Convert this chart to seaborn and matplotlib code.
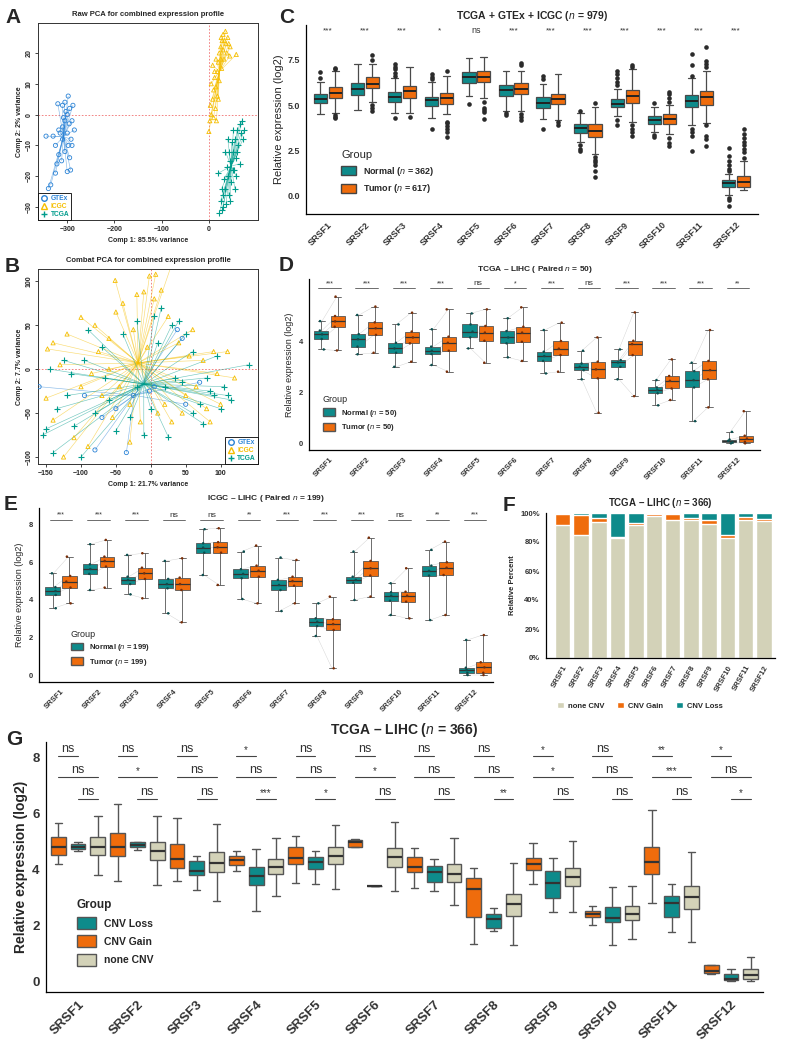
import numpy as np
import pandas as pd
import matplotlib
matplotlib.use("Agg")
import matplotlib.pyplot as plt
import seaborn as sns
from matplotlib.patches import Patch
from matplotlib.lines import Line2D
from matplotlib.collections import LineCollection

sns.set_style("white")
plt.rcParams["font.family"] = ["Liberation Sans", "DejaVu Sans"]
plt.rcParams["mathtext.fontset"] = "custom"
plt.rcParams["mathtext.rm"] = "Liberation Sans"
plt.rcParams["mathtext.it"] = "Liberation Sans:italic"
plt.rcParams["mathtext.bf"] = "Liberation Sans:bold"

# ---------------- data ----------------
genes = ["SRSF1", "SRSF2", "SRSF3", "SRSF4", "SRSF5", "SRSF6",
         "SRSF7", "SRSF8", "SRSF9", "SRSF10", "SRSF11", "SRSF12"]

# A: raw PCA (approximate point positions)
a_gtex_x = [-340, -335, -325, -322, -318, -345, -330, -325, -315, -310, -305, -300, -295, -305, -298,
            -310, -320, -290, -285, -290, -295, -300, -293, -305, -310, -300, -308, -303, -296, -288,
            -312, -318, -298, -292]
a_gtex_y = [-24, -22.8, -19, -16, -13, -7, -7, -10, -6, -4, -2, 0, 2, 4, 6,
            3, 3.5, -2, -5, -10, -14, -18.5, -18, -12, -8, -6, -1, 1, -3, 3,
            -15, -5, -10, -8]
a_icgc_x = [0, 2, 5, 3, 8, 10, 5, 12, 15, 18, 20, 15, 22, 25, 28, 30, 35, 40, 45, 38, 32, 27, 22,
            18, 14, 10, 58, 42, 36, 25, 20, 16, 12, 8, 30, 26, 33, 44]
a_icgc_y = [-5.5, -2, 0, 3, 5, 8, 10, 12, 9, 14, 17, 18, 20, 22, 24, 26, 27, 25, 22, 20, 18, 15, 11,
            6, 2, -1, 19.5, 23, 23, 18, 5, -2, 14, 16, 21, 25, 24, 19]
a_tcga_x = [22, 28, 25, 30, 35, 32, 40, 38, 45, 42, 50, 48, 55, 52, 60, 65, 70, 75, 68, 62, 57, 53,
            47, 42, 36, 30, 20, 65, 58, 35, 72, 45, 27, 40, 50, 60, 55]
a_tcga_y = [-32, -31, -28, -26, -24, -21, -20, -17, -15, -12, -12, -9, -8, -5, -5, -3, -2, -5, -6,
            -10, -14, -18, -22, -26, -29, -30, -19, -16, -20, -12, -8, -28, -24, -8, -18, -12, -24]

# B: combat PCA
b_gtex_x = [-80, -35, -25, -70, 50, 45, 38, -160, -95, 5, -2, 70, -50]
b_gtex_y = [-92, -95, -30, -55, -40, 35, 45, -20, -30, -20, -25, -15, -45]
b_icgc_x = [-148, -150, -140, -125, -110, -100, -90, -80, -75, -70, -60, -55, -50, -45, -40, -30,
            -25, -20, -15, -10, -5, 5, 15, 20, 25, 30, 40, 45, 50, 60, 65, 75, 80, 90, 95, 110,
            -130, -100, 100, -30, 10, -60, 55, -120, -85, 29, -51, -2, 7, 120, -140, 85]
b_icgc_y = [23, -33, -58, -100, -78, 59, -88, 50, 20, -30, 35, -55, 65, -20, 75, -83,
            45, 85, -60, 88, 25, 80, 90, -40, 60, -60, 30, -50, -30, 45, -20, 10, -45, 20, -5, 20,
            5, -20, -40, -40, -50, 0, 15, 40, -5, 117, 101, 106, 108, -10, 30, -60]
b_tcga_x = [-155, -140, -150, -135, -120, -110, -100, -95, -80, -70, -60, -50, -40, -30, -20, -10,
            0, 5, 15, 25, 30, 40, 45, 50, 60, 70, 75, 85, 90, 100, 105, 115, 140, -145, -125, -90,
            20, 60, -20, 35, 80, -65, 10, 95, -115, 110]
b_tcga_y = [-75, -95, -68, -45, -30, -65, -100, 10, -50, 25, -35, -70, 40, -55, 55, -75,
            -45, 60, 70, -77, 50, 55, -15, 40, -50, -40, -62, -25, -30, -45, -20, -35, 5, 0, 10, 45,
            -20, 20, -20, -10, -10, -10, 30, 15, -5, -30]

# C: TCGA + GTEx + ICGC, box summaries (low whisker, Q1, median, Q3, high whisker)
c_normal = [
    [4.50, 5.11, 5.37, 5.61, 6.30], [4.74, 5.57, 5.88, 6.21, 7.30], [4.60, 5.20, 5.44, 5.74, 6.50],
    [4.30, 4.96, 5.29, 5.48, 6.30], [5.50, 6.25, 6.54, 6.86, 7.60], [4.70, 5.53, 5.85, 6.12, 6.90],
    [4.25, 4.83, 5.11, 5.44, 6.20], [3.00, 3.49, 3.77, 3.95, 4.60], [4.40, 4.89, 5.07, 5.35, 5.90],
    [3.50, 3.95, 4.19, 4.41, 4.90], [3.90, 4.89, 5.24, 5.57, 6.50], [0.05, 0.51, 0.70, 0.85, 1.20],
]
c_tumor = [
    [4.60, 5.42, 5.70, 5.99, 6.90], [5.20, 5.97, 6.18, 6.54, 7.30], [4.60, 5.39, 5.79, 6.07, 7.10],
    [4.50, 5.07, 5.39, 5.66, 6.60], [5.40, 6.27, 6.58, 6.89, 7.65], [4.70, 5.61, 5.90, 6.25, 6.90],
    [4.20, 5.06, 5.37, 5.61, 6.70], [2.30, 3.27, 3.58, 3.95, 4.90], [4.10, 5.15, 5.53, 5.85, 7.00],
    [3.40, 3.97, 4.26, 4.52, 5.00], [4.00, 5.00, 5.44, 5.81, 6.90], [0.35, 0.51, 0.79, 1.10, 1.90],
]
c_normal_out = [
    [6.50, 6.85], [], [6.60, 6.80, 7.00, 7.10, 7.30, 4.30], [6.45, 6.55, 6.75, 3.70], [5.05],
    [4.55, 4.45], [6.45, 6.60, 3.70], [4.70, 2.80, 2.60, 2.50],
    [6.10, 6.30, 6.50, 6.70, 6.90, 4.20, 3.90], [5.10, 3.35, 3.25],
    [6.60, 7.20, 7.85, 3.70, 3.50, 3.30, 2.50],
    [1.35, 1.50, 1.70, 1.90, 2.20, 2.65, -0.10, -0.20, -0.55],
]
c_tumor_out = [
    [7.00, 7.05, 4.45, 4.35, 4.28], [7.50, 7.75, 5.00, 4.85, 4.70], [4.35],
    [6.90, 4.10, 4.00, 3.85, 3.70, 3.50, 3.25], [5.20, 4.85, 4.75, 4.65, 4.25],
    [7.25, 7.35, 4.50, 4.35, 4.20], [4.05, 3.90], [5.10, 2.15, 2.00, 1.85, 1.70, 1.40, 1.05],
    [7.10, 7.25, 3.90, 3.70, 3.50, 3.30], [5.20, 5.40, 5.60, 5.75, 3.20, 2.90, 2.75],
    [7.10, 7.30, 7.45, 8.20, 3.90, 3.30, 3.15, 2.75], [2.10, 2.40, 2.60, 2.80, 3.00, 3.20, 3.40, 3.70],
]
c_sig = ["***", "***", "***", "*", "ns", "***", "***", "***", "***", "***", "***", "***"]

# D: TCGA-LIHC paired
d_normal = [
    [3.67, 4.08, 4.26, 4.41, 4.78], [3.48, 3.78, 4.07, 4.27, 5.02], [2.99, 3.54, 3.71, 3.93, 4.65],
    [3.06, 3.49, 3.62, 3.78, 4.46], [3.71, 4.14, 4.37, 4.65, 5.08], [3.36, 3.91, 4.14, 4.39, 4.89],
    [2.73, 3.22, 3.41, 3.58, 4.43], [2.50, 2.86, 2.99, 3.12, 3.62], [2.50, 2.99, 3.16, 3.25, 3.67],
    [1.48, 1.95, 2.08, 2.18, 2.47], [0.86, 2.18, 2.47, 2.82, 3.15], [-0.01, 0.03, 0.09, 0.14, 0.44],
]
d_tumor = [
    [3.63, 4.56, 4.77, 4.98, 5.74], [3.54, 4.24, 4.50, 4.73, 5.35], [3.19, 3.91, 4.14, 4.37, 5.11],
    [2.80, 3.62, 3.93, 4.17, 5.24], [3.15, 4.01, 4.33, 4.59, 5.24], [3.22, 3.97, 4.33, 4.56, 5.32],
    [2.80, 3.45, 3.70, 4.00, 4.72], [1.19, 2.54, 2.89, 3.19, 4.14], [1.84, 3.45, 3.88, 4.01, 5.12],
    [1.69, 2.14, 2.44, 2.63, 3.28], [1.40, 2.50, 2.86, 3.22, 4.43], [-0.01, 0.05, 0.18, 0.29, 1.25],
]
d_sig = ["***", "***", "***", "***", "ns", "*", "***", "ns", "***", "***", "***", "**"]

# E: ICGC-LIHC paired
e_normal = [
    [3.56, 4.27, 4.48, 4.68, 5.42], [4.53, 5.39, 5.65, 5.90, 6.97], [4.30, 4.85, 5.07, 5.24, 6.40],
    [3.29, 4.62, 4.85, 5.12, 6.08], [5.33, 6.52, 6.79, 7.02, 7.77], [4.05, 5.16, 5.39, 5.64, 6.58],
    [3.41, 4.53, 4.80, 5.07, 6.26], [2.08, 2.61, 2.84, 3.02, 3.82], [4.00, 4.92, 5.07, 5.24, 6.58],
    [3.20, 3.96, 4.23, 4.41, 4.89], [2.93, 5.30, 5.55, 5.83, 6.67], [0.00, 0.12, 0.27, 0.39, 1.87],
]
e_tumor = [
    [3.82, 4.66, 4.98, 5.28, 6.31], [4.66, 5.78, 6.08, 6.31, 7.20], [4.09, 5.12, 5.42, 5.72, 6.49],
    [2.81, 4.53, 4.85, 5.19, 6.22], [4.80, 6.52, 6.81, 7.08, 7.82], [3.82, 5.24, 5.56, 5.83, 6.90],
    [3.82, 4.76, 5.01, 5.24, 6.13], [0.36, 2.40, 2.72, 2.97, 4.18], [4.18, 5.30, 5.69, 6.08, 7.32],
    [3.02, 3.91, 4.23, 4.44, 5.69], [3.20, 5.33, 5.72, 6.01, 7.11], [0.00, 0.12, 0.41, 0.68, 2.13],
]
e_sig = ["***", "***", "***", "ns", "ns", "**", "***", "***", "***", "ns", "**", "***"]

# F: CNV percentages
f_none = [91.7, 85.1, 94.0, 82.5, 91.5, 98.0, 95.2, 95.4, 92.4, 82.7, 95.1, 94.7]
f_gain = [7.4, 13.3, 2.5, 1.1, 1.8, 1.1, 3.9, 0.9, 2.5, 2.1, 2.1, 0.9]
f_loss = [0.9, 1.6, 3.5, 16.4, 6.7, 0.9, 0.9, 3.7, 5.1, 15.2, 2.8, 4.4]

# G: CNV groups
g_gain = [
    [4.20, 4.52, 4.79, 5.15, 5.66], [3.60, 4.50, 4.80, 5.31, 6.36], [3.60, 4.07, 4.37, 4.91, 5.83],
    [3.96, 4.17, 4.33, 4.48, 4.66], [3.53, 4.21, 4.40, 4.81, 5.21], [4.80, 4.82, 4.98, 5.05, 5.08],
    [3.32, 3.91, 4.10, 4.45, 4.76], [1.32, 2.31, 3.30, 3.69, 4.05], [3.48, 3.99, 4.19, 4.40, 4.94],
    [2.01, 2.29, 2.42, 2.52, 2.69], [2.81, 3.84, 4.27, 4.80, 6.12], [0.25, 0.30, 0.36, 0.57, 0.57],
]
g_loss = [
    [4.67, 4.74, 4.82, 4.91, 4.98], [4.69, 4.79, 4.88, 5.00, 5.00], [3.27, 3.80, 3.93, 4.31, 4.50],
    [2.52, 3.45, 3.76, 4.09, 4.73], [3.47, 4.03, 4.27, 4.45, 4.66], [3.42, 3.42, 3.42, 3.42, 3.42],
    [3.24, 3.57, 3.91, 4.14, 4.36], [1.80, 1.91, 2.23, 2.41, 2.61], [2.49, 2.99, 3.51, 3.93, 4.43],
    [1.29, 2.11, 2.27, 2.67, 3.39], [1.77, 2.29, 2.81, 3.06, 3.47], [0.02, 0.04, 0.07, 0.25, 0.44],
]
g_none = [
    [3.81, 4.52, 4.82, 5.15, 5.90], [3.45, 4.33, 4.66, 4.98, 5.90], [2.88, 3.90, 4.25, 4.63, 5.64],
    [3.06, 3.83, 4.08, 4.36, 5.13], [3.29, 4.19, 4.50, 4.81, 5.58], [3.23, 4.10, 4.44, 4.76, 5.71],
    [2.73, 3.54, 3.84, 4.19, 5.12], [1.29, 2.35, 2.76, 3.11, 4.22], [2.47, 3.40, 3.72, 4.05, 5.02],
    [1.51, 2.18, 2.42, 2.69, 3.41], [1.39, 2.59, 3.03, 3.42, 4.62], [0.00, 0.07, 0.22, 0.42, 0.87],
]
g_sig_gain_loss = ["ns", "ns", "ns", "*", "ns", "ns", "ns", "ns", "*", "ns", "**", "*"]
g_sig_gain_none = ["ns", "*", "ns", "ns", "ns", "*", "ns", "ns", "*", "ns", "***", "ns"]
g_sig_loss_none = ["ns", "ns", "ns", "***", "*", "ns", "ns", "**", "ns", "ns", "ns", "*"]

# ---------------- style ----------------
TEAL = "#0E8B8B"
ORANGE = "#EF6C0C"
BEIGE = "#D3D2B8"
GTEX_C = "#2B83D6"
ICGC_C = "#F5BE00"
TCGA_C = "#009C8C"
W, H = 788, 1045


def axes_px(left, top, right, bottom):
    return fig.add_axes([left / W, 1 - bottom / H, (right - left) / W, (bottom - top) / H])


def box_df(names, series):
    rows = []
    for name, boxes in zip(names, series):
        for gene, vals in zip(genes, boxes):
            for v in vals:
                rows.append((gene, name, v))
    return pd.DataFrame(rows, columns=["gene", "group", "value"])


def gg_axes(ax, tick_size, weight="bold"):
    sns.despine(ax=ax)
    for s in ["left", "bottom"]:
        ax.spines[s].set_color("black")
        ax.spines[s].set_linewidth(0.9)
    ax.tick_params(length=3, width=0.8, color="#333333", labelsize=tick_size, pad=1.5)
    for lab in ax.get_xticklabels() + ax.get_yticklabels():
        lab.set_fontweight(weight)
        lab.set_color("#333333")
    ax.set_xlabel("")


def panel_letter(x, y, s):
    fig.text(x / W, 1 - y / H, s, fontsize=15, fontweight="bold", va="top", ha="left")


fig = plt.figure(figsize=(W / 100, H / 100), dpi=100)

# ---------------- A / B: PCA ----------------
pca_colors = {"GTEx": GTEX_C, "ICGC": ICGC_C, "TCGA": TCGA_C}
pca_markers = {"GTEx": "o", "ICGC": "^", "TCGA": "+"}


def pca_panel(ax, pts, xlim, ylim, xticks, yticks, title, xlabel, ylabel, legend_loc):
    for name, (xs, ys) in pts.items():
        xs = np.asarray(xs, float)
        ys = np.asarray(ys, float)
        cx, cy = xs.mean(), ys.mean()
        segs = [[(cx, cy), (x, y)] for x, y in zip(xs, ys)]
        ax.add_collection(LineCollection(segs, colors=pca_colors[name], linewidths=0.45, alpha=0.55))
        if pca_markers[name] == "+":
            ax.scatter(xs, ys, marker="+", s=14, color=pca_colors[name], linewidths=0.8, zorder=3)
        else:
            ax.scatter(xs, ys, marker=pca_markers[name], s=9, facecolors="none",
                       edgecolors=pca_colors[name], linewidths=0.6, zorder=3)
    ax.axvline(0, color="#F07070", ls=(0, (2, 2)), lw=0.6, zorder=1)
    ax.axhline(0, color="#F07070", ls=(0, (2, 2)), lw=0.6, zorder=1)
    ax.set_xlim(*xlim)
    ax.set_ylim(*ylim)
    ax.set_xticks(xticks)
    ax.set_yticks(yticks)
    for s in ax.spines.values():
        s.set_color("#333333")
        s.set_linewidth(0.7)
    ax.tick_params(length=2.5, width=0.6, labelsize=5, pad=1.5, direction="out",
                   bottom=True, left=True)
    ax.tick_params(axis="y", labelrotation=90)
    for lab in ax.get_yticklabels():
        lab.set_va("center")
    for lab in ax.get_xticklabels() + ax.get_yticklabels():
        lab.set_fontweight("bold")
    ax.set_title(title, fontsize=5.5, fontweight="bold", pad=5)
    ax.set_xlabel(xlabel, fontsize=5, fontweight="bold", labelpad=3)
    ax.set_ylabel(ylabel, fontsize=5, fontweight="bold", labelpad=2)
    handles = []
    for name in ["GTEx", "ICGC", "TCGA"]:
        if pca_markers[name] == "+":
            handles.append(Line2D([], [], ls="", marker="+", color=pca_colors[name], ms=5))
        else:
            handles.append(Line2D([], [], ls="", marker=pca_markers[name], mfc="none",
                                  mec=pca_colors[name], ms=4))
    leg = ax.legend(handles, ["GTEx", "ICGC", "TCGA"], loc=legend_loc, fontsize=4.8,
                    frameon=True, fancybox=False, edgecolor="black", framealpha=1,
                    borderpad=0.3, labelspacing=0.15, handletextpad=0.4, handlelength=1.2,
                    borderaxespad=0)
    leg.get_frame().set_linewidth(0.6)
    for t, name in zip(leg.get_texts(), ["GTEx", "ICGC", "TCGA"]):
        t.set_color(pca_colors[name])
        t.set_fontweight("bold")


axA = axes_px(38, 23, 258, 220)
pca_panel(axA, {"GTEx": (a_gtex_x, a_gtex_y), "ICGC": (a_icgc_x, a_icgc_y),
                "TCGA": (a_tcga_x, a_tcga_y)},
          (-362, 104), (-34.2, 29.7), [-300, -200, -100, 0], [-30, -20, -10, 0, 10, 20],
          "Raw PCA for combined expression profile", "Comp 1: 85.5% variance",
          "Comp 2: 2% variance", "lower left")

axB = axes_px(38, 269, 258, 464)
pca_panel(axB, {"GTEx": (b_gtex_x, b_gtex_y), "ICGC": (b_icgc_x, b_icgc_y),
                "TCGA": (b_tcga_x, b_tcga_y)},
          (-161.6, 153.6), (-108, 114), [-150, -100, -50, 0, 50, 100], [-100, -50, 0, 50, 100],
          "Combat PCA for combined expression profile", "Comp 1: 21.7% variance",
          "Comp 2: 7.7% variance", "lower right")

# ---------------- C ----------------
axC = axes_px(306, 25, 758, 214)
dfc = box_df(["Normal", "Tumor"], [c_normal, c_tumor])
sns.boxplot(data=dfc, x="gene", y="value", hue="group", hue_order=["Normal", "Tumor"],
            palette={"Normal": TEAL, "Tumor": ORANGE}, saturation=1, whis=(0, 100),
            showfliers=False, width=0.8, gap=0.1, linecolor="#4a4a4a", linewidth=0.9,
            medianprops={"color": "#222222", "linewidth": 1.4}, legend=False, ax=axC)
for i in range(len(genes)):
    for off, outs in ((-0.2, c_normal_out[i]), (0.2, c_tumor_out[i])):
        if outs:
            axC.scatter(np.full(len(outs), i + off), outs, s=11, color="#2b2b2b", zorder=3,
                        linewidths=0)
    axC.text(i, 9.1, c_sig[i], ha="center", va="center",
             fontsize=6.5 if c_sig[i] == "ns" else 6, color="#333333")
axC.set_xlim(-0.59, 11.59)
axC.set_ylim(-1.0, 9.43)
axC.set_yticks([0, 2.5, 5, 7.5])
axC.set_yticklabels(["0.0", "2.5", "5.0", "7.5"])
gg_axes(axC, 6.5)
axC.set_ylabel("Relative expression (log2)", fontsize=8, labelpad=2)
plt.setp(axC.get_xticklabels(), rotation=45, ha="right", rotation_mode="anchor")
axC.set_title(r"TCGA + GTEx + ICGC ($\mathit{n}$ = 979)", fontsize=7.5, fontweight="bold", pad=4)
legC = axC.legend([Patch(facecolor=TEAL, edgecolor="#444444"), Patch(facecolor=ORANGE, edgecolor="#444444")],
                  [r"Normal ($\mathit{n}$ = 362)", r"Tumor ($\mathit{n}$ = 617)"],
                  title="Group", loc="upper left", bbox_to_anchor=(0.06, 0.38), frameon=False,
                  prop={"size": 6.5, "weight": "bold"}, title_fontproperties={"size": 8},
                  handlelength=1.6, handleheight=1.2, labelspacing=0.5)
legC._legend_box.align = "left"


# ---------------- D / E paired ----------------
def paired_panel(ax, normal, tumor, sig, sig_y, ylim, yticks, xlim, title, n, leg_anchor):
    df = box_df(["Normal", "Tumor"], [normal, tumor])
    for i in range(len(genes)):
        for a, b in zip(normal[i], tumor[i]):
            ax.plot([i - 0.2, i + 0.2], [a, b], color="#bbbbbb", lw=0.3, alpha=0.7, zorder=1)
    sns.boxplot(data=df, x="gene", y="value", hue="group", hue_order=["Normal", "Tumor"],
                palette={"Normal": TEAL, "Tumor": ORANGE}, saturation=1, whis=(0, 100),
                showfliers=False, width=0.9, gap=0.15, linecolor="#555555", linewidth=0.6,
                medianprops={"color": "#333333", "linewidth": 0.9}, legend=False, ax=ax)
    sns.stripplot(data=df, x="gene", y="value", hue="group", hue_order=["Normal", "Tumor"],
                  palette={"Normal": "#0b4f4f", "Tumor": "#7a2e08"}, dodge=True, jitter=0.12,
                  size=1.8, legend=False, ax=ax, zorder=3)
    for i, s in enumerate(sig):
        ax.plot([i - 0.3, i + 0.3], [sig_y, sig_y], color="#555555", lw=0.6)
        ax.text(i, sig_y + 0.05 * (ylim[1] - ylim[0]) / 7, s, ha="center", va="bottom",
                fontsize=6 if s == "ns" else 5, color="#333333")
    ax.set_xlim(*xlim)
    ax.set_ylim(*ylim)
    ax.set_yticks(yticks)
    gg_axes(ax, 5.5)
    ax.set_ylabel("Relative expression (log2)", fontsize=6.5, labelpad=3)
    plt.setp(ax.get_xticklabels(), rotation=45, ha="right", rotation_mode="anchor")
    ax.set_title(title, fontsize=6, fontweight="bold", pad=6)
    leg = ax.legend([Patch(facecolor=TEAL, edgecolor="#555555"), Patch(facecolor=ORANGE, edgecolor="#555555")],
                    [r"Normal ($\mathit{n}$ = %d)" % n, r"Tumor ($\mathit{n}$ = %d)" % n],
                    title="Group", loc="upper left", bbox_to_anchor=leg_anchor, frameon=False,
                    prop={"size": 5.5, "weight": "bold"}, title_fontproperties={"size": 6.5},
                    handlelength=1.6, handleheight=1.2, labelspacing=0.45)
    leg._legend_box.align = "left"


axD = axes_px(309, 279, 760, 450)
paired_panel(axD, d_normal, d_tumor, d_sig, 6.07, (-0.27, 6.43), [0, 2, 4], (-0.55, 11.6),
             r"TCGA – LIHC ( Paired $\mathit{n}$ = 50)", 50, (0.015, 0.36))

axE = axes_px(39, 508, 493, 682)
paired_panel(axE, e_normal, e_tumor, e_sig, 8.27, (-0.37, 8.9), [0, 2, 4, 6, 8], (-0.585, 11.48),
             r"ICGC – LIHC ( Paired $\mathit{n}$ = 199)", 199, (0.055, 0.34))

# ---------------- F ----------------
axF = axes_px(546, 513, 775, 658)
f_total = np.array(f_none) + np.array(f_gain) + np.array(f_loss)
f_none_gain = np.array(f_none) + np.array(f_gain)
sns.barplot(x=genes, y=f_total, color=TEAL, saturation=1, width=0.85, ax=axF)
sns.barplot(x=genes, y=f_none_gain, color=ORANGE, saturation=1, width=0.85, ax=axF)
sns.barplot(x=genes, y=f_none, color=BEIGE, saturation=1, width=0.85, ax=axF)
axF.set_xlim(-0.91, 11.6)
axF.set_ylim(0, 100)
axF.set_yticks([0, 20, 40, 60, 80, 100])
axF.set_yticklabels(["0%", "20%", "40%", "60%", "80%", "100%"])
gg_axes(axF, 5.5)
axF.set_ylabel("Relative Percent", fontsize=5.5, fontweight="bold", labelpad=3)
plt.setp(axF.get_xticklabels(), rotation=60, ha="right", rotation_mode="anchor")
axF.set_title(r"TCGA – LIHC ($\mathit{n}$ = 366)", fontsize=7, fontweight="bold", pad=5)
fig.legend([Patch(facecolor=BEIGE), Patch(facecolor=ORANGE), Patch(facecolor=TEAL)],
           ["none CNV", "CNV Gain", "CNV Loss"], loc="center", bbox_to_anchor=(640 / W, 1 - 706 / H),
           ncol=3, frameon=False, prop={"size": 5.5, "weight": "bold"},
           handlelength=0.9, handleheight=0.9, columnspacing=1.6, handletextpad=0.6)

# ---------------- G ----------------
axG = axes_px(46, 742, 763, 992)
dfg = box_df(["CNV Gain", "CNV Loss", "none CNV"], [g_gain, g_loss, g_none])
sns.boxplot(data=dfg, x="gene", y="value", hue="group",
            hue_order=["CNV Gain", "CNV Loss", "none CNV"],
            palette={"CNV Gain": ORANGE, "CNV Loss": TEAL, "none CNV": BEIGE}, saturation=1,
            whis=(0, 100), showfliers=False, width=1.0, gap=0.25, linecolor="#555555",
            linewidth=1.0, medianprops={"color": "#333333", "linewidth": 1.6},
            legend=False, ax=axG)
third = 1 / 3
rows = [(g_sig_gain_loss, -third, 0, 8.07), (g_sig_gain_none, -third, third, 7.32),
        (g_sig_loss_none, 0, third, 6.53)]
for labels, x0, x1, yv in rows:
    for i, s in enumerate(labels):
        axG.plot([i + x0, i + x1], [yv, yv], color="#444444", lw=0.8)
        axG.text(i + (x0 + x1) / 2, yv + 0.04, s, ha="center", va="bottom",
                 fontsize=9 if s == "ns" else 7, color="#333333")
axG.set_xlim(-0.54, 11.54)
axG.set_ylim(-0.39, 8.57)
axG.set_yticks([0, 2, 4, 6, 8])
gg_axes(axG, 9.5)
axG.set_ylabel("Relative expression (log2)", fontsize=10, fontweight="bold", labelpad=3)
plt.setp(axG.get_xticklabels(), rotation=45, ha="right", rotation_mode="anchor")
axG.set_title(r"TCGA – LIHC ($\mathit{n}$ = 366)", fontsize=10, fontweight="bold", pad=6)
legG = axG.legend([Patch(facecolor=TEAL, edgecolor="#555555"), Patch(facecolor=ORANGE, edgecolor="#555555"),
                   Patch(facecolor=BEIGE, edgecolor="#555555")],
                  ["CNV Loss", "CNV Gain", "none CNV"], title="Group", loc="upper left",
                  bbox_to_anchor=(0.03, 0.41), frameon=False, prop={"size": 7.5, "weight": "bold"},
                  title_fontproperties={"size": 8.5, "weight": "bold"},
                  handlelength=1.8, handleheight=1.4, labelspacing=0.6)
legG._legend_box.align = "left"

# ---------------- panel letters ----------------
panel_letter(5, 8, "A")
panel_letter(5, 257, "B")
panel_letter(279, 8, "C")
panel_letter(279, 256, "D")
panel_letter(4, 495, "E")
panel_letter(503, 496, "F")
panel_letter(6, 730, "G")

fig.savefig("out.png", dpi=100)
